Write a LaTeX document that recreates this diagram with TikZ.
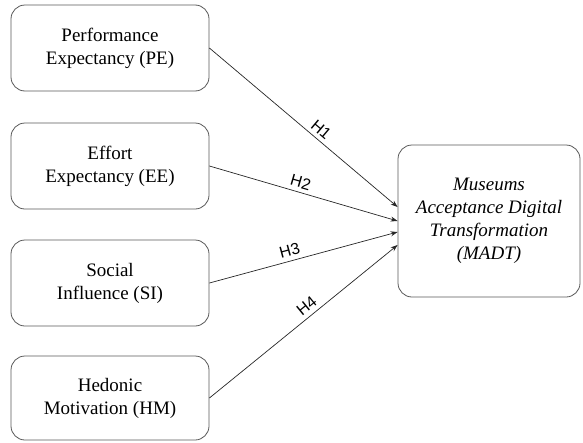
\documentclass[tikz,border=0pt]{standalone}
\usepackage{fontspec}
\setmainfont{Liberation Serif}
\newfontfamily\labelfont{Liberation Sans}
\usetikzlibrary{arrows.meta}
\begin{document}
\begin{tikzpicture}[x=1pt,y=-1pt,
  box/.style={draw=black!65,line width=0.8pt,rounded corners=14pt,align=center,
    font=\fontsize{19}{23}\selectfont,inner sep=0pt},
  link/.style={draw=black!85,line width=0.7pt,-{Stealth[length=7pt,width=5pt]}},
  hlab/.style={font=\labelfont\fontsize{16}{18}\selectfont,sloped,above=3pt,inner sep=1pt}]
\useasboundingbox (0,0) rectangle (583,442);
\node[box,minimum width=198pt,minimum height=86pt] (pe) at (110,48) {Performance\\Expectancy (PE)};
\node[box,minimum width=198pt,minimum height=86pt] (ee) at (110,166) {Effort\\Expectancy (EE)};
\node[box,minimum width=198pt,minimum height=86pt] (si) at (110,283) {Social\\Influence (SI)};
\node[box,minimum width=198pt,minimum height=84pt] (hm) at (110,398) {Hedonic\\Motivation (HM)};
\node[box,minimum width=182pt,minimum height=152pt,font=\fontsize{19}{23}\selectfont\itshape] (madt) at (489,221) {Museums\\Acceptance Digital\\Transformation\\(MADT)};
\draw[link] (pe.east) -- node[hlab,pos=0.56]{H1} ([yshift=14pt]madt.west);
\draw[link] (ee.east) -- node[hlab,pos=0.47]{H2} (madt.west);
\draw[link] (si.east) -- node[hlab,pos=0.44]{H3} ([yshift=-11pt]madt.west);
\draw[link] (hm.east) -- node[hlab,pos=0.55]{H4} ([yshift=-24pt]madt.west);
\end{tikzpicture}
\end{document}
